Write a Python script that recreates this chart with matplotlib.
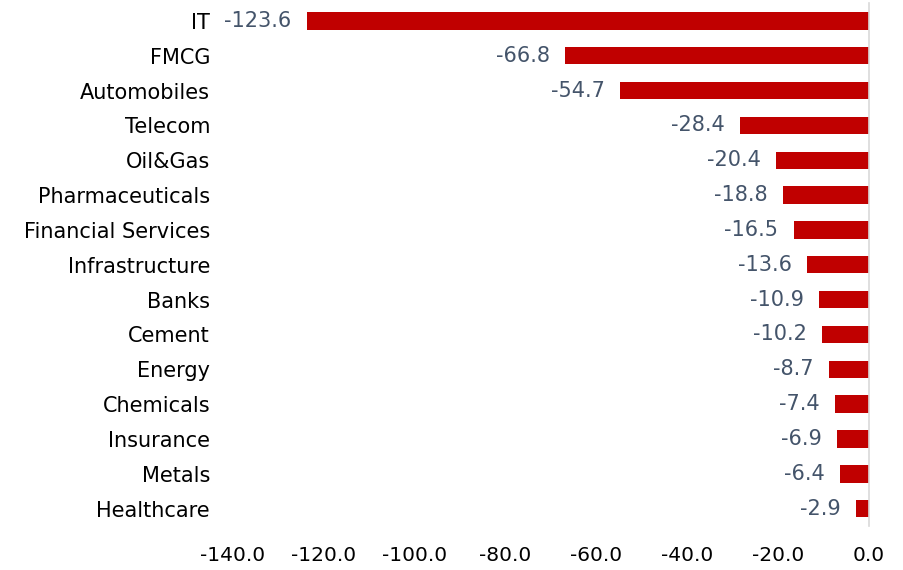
import matplotlib
matplotlib.use("Agg")
import matplotlib.pyplot as plt

plt.rcParams['font.family'] = ['DejaVu Sans']

sectors = ['IT', 'FMCG', 'Automobiles', 'Telecom', 'Oil&Gas', 'Pharmaceuticals',
           'Financial Services', 'Infrastructure', 'Banks', 'Cement', 'Energy',
           'Chemicals', 'Insurance', 'Metals', 'Healthcare']
values = [-123.6, -66.8, -54.7, -28.4, -20.4, -18.8, -16.5, -13.6,
          -10.9, -10.2, -8.7, -7.4, -6.9, -6.4, -2.9]
xticks = [-140, -120, -100, -80, -60, -40, -20, 0]

BAR_COLOR = '#C00000'
LABEL_COLOR = '#44546A'

fig = plt.figure(figsize=(9.04, 5.70), dpi=100)
ax = fig.add_axes([0.257, 0.077, 0.704, 0.917])

ypos = list(range(len(sectors)))
ax.barh(ypos, values, height=0.5, color=BAR_COLOR)
ax.set_ylim(len(sectors) - 0.5, -0.5)
ax.set_xlim(-140, 0)

for y, v in zip(ypos, values):
    ax.annotate(f"{v:.1f}", xy=(v, y), xytext=(-11, 0), textcoords='offset points',
                ha='right', va='center', fontsize=15, color=LABEL_COLOR)

ax.set_yticks(ypos)
ax.set_yticklabels(sectors, fontsize=15, color='black')
ax.set_xticks(xticks)
ax.set_xticklabels([f"{t:.1f}" for t in xticks], fontsize=14.5, color='black')
ax.tick_params(axis='both', length=0)
ax.tick_params(axis='y', pad=16)
ax.tick_params(axis='x', pad=14)

for s in ['top', 'left', 'bottom']:
    ax.spines[s].set_visible(False)
ax.spines['right'].set_color('#D9D9D9')
ax.spines['right'].set_linewidth(1.2)

fig.savefig('out.png', dpi=100)
